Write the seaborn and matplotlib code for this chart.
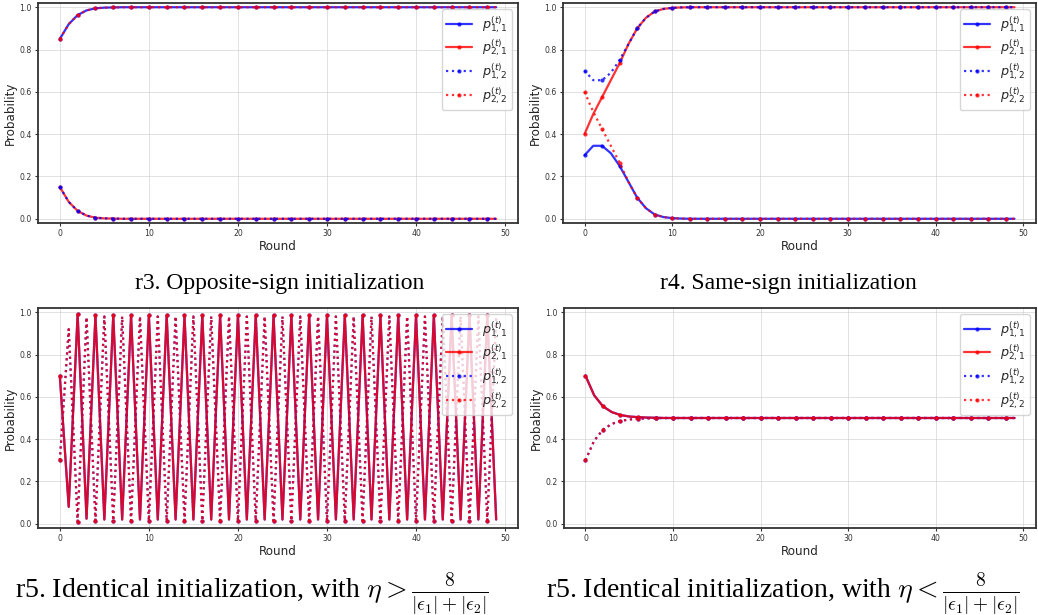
import matplotlib
matplotlib.use("Agg")
import matplotlib.pyplot as plt
import seaborn as sns

# ---------------- data ----------------
rounds = list(range(50))

# r3. Opposite-sign initialization
r3_p11 = [0.85, 0.92, 0.963, 0.985, 0.995, 0.998, 0.999, 1.0, 1.0, 1.0,
          1.0, 1.0, 1.0, 1.0, 1.0, 1.0, 1.0, 1.0, 1.0, 1.0,
          1.0, 1.0, 1.0, 1.0, 1.0, 1.0, 1.0, 1.0, 1.0, 1.0,
          1.0, 1.0, 1.0, 1.0, 1.0, 1.0, 1.0, 1.0, 1.0, 1.0,
          1.0, 1.0, 1.0, 1.0, 1.0, 1.0, 1.0, 1.0, 1.0, 1.0]
r3_p21 = [0.15, 0.08, 0.037, 0.015, 0.005, 0.002, 0.001, 0.0, 0.0, 0.0,
          0.0, 0.0, 0.0, 0.0, 0.0, 0.0, 0.0, 0.0, 0.0, 0.0,
          0.0, 0.0, 0.0, 0.0, 0.0, 0.0, 0.0, 0.0, 0.0, 0.0,
          0.0, 0.0, 0.0, 0.0, 0.0, 0.0, 0.0, 0.0, 0.0, 0.0,
          0.0, 0.0, 0.0, 0.0, 0.0, 0.0, 0.0, 0.0, 0.0, 0.0]
r3_p12 = [0.15, 0.08, 0.037, 0.015, 0.005, 0.002, 0.001, 0.0, 0.0, 0.0,
          0.0, 0.0, 0.0, 0.0, 0.0, 0.0, 0.0, 0.0, 0.0, 0.0,
          0.0, 0.0, 0.0, 0.0, 0.0, 0.0, 0.0, 0.0, 0.0, 0.0,
          0.0, 0.0, 0.0, 0.0, 0.0, 0.0, 0.0, 0.0, 0.0, 0.0,
          0.0, 0.0, 0.0, 0.0, 0.0, 0.0, 0.0, 0.0, 0.0, 0.0]
r3_p22 = [0.85, 0.92, 0.963, 0.985, 0.995, 0.998, 0.999, 1.0, 1.0, 1.0,
          1.0, 1.0, 1.0, 1.0, 1.0, 1.0, 1.0, 1.0, 1.0, 1.0,
          1.0, 1.0, 1.0, 1.0, 1.0, 1.0, 1.0, 1.0, 1.0, 1.0,
          1.0, 1.0, 1.0, 1.0, 1.0, 1.0, 1.0, 1.0, 1.0, 1.0,
          1.0, 1.0, 1.0, 1.0, 1.0, 1.0, 1.0, 1.0, 1.0, 1.0]

# r4. Same-sign initialization
r4_p11 = [0.30, 0.345, 0.345, 0.31, 0.25, 0.175, 0.10, 0.05, 0.02, 0.008,
          0.003, 0.001, 0.0, 0.0, 0.0, 0.0, 0.0, 0.0, 0.0, 0.0,
          0.0, 0.0, 0.0, 0.0, 0.0, 0.0, 0.0, 0.0, 0.0, 0.0,
          0.0, 0.0, 0.0, 0.0, 0.0, 0.0, 0.0, 0.0, 0.0, 0.0,
          0.0, 0.0, 0.0, 0.0, 0.0, 0.0, 0.0, 0.0, 0.0, 0.0]
r4_p21 = [0.40, 0.495, 0.575, 0.655, 0.735, 0.825, 0.90, 0.95, 0.98, 0.992,
          0.997, 0.999, 1.0, 1.0, 1.0, 1.0, 1.0, 1.0, 1.0, 1.0,
          1.0, 1.0, 1.0, 1.0, 1.0, 1.0, 1.0, 1.0, 1.0, 1.0,
          1.0, 1.0, 1.0, 1.0, 1.0, 1.0, 1.0, 1.0, 1.0, 1.0,
          1.0, 1.0, 1.0, 1.0, 1.0, 1.0, 1.0, 1.0, 1.0, 1.0]
r4_p12 = [0.70, 0.655, 0.655, 0.69, 0.75, 0.825, 0.90, 0.95, 0.98, 0.992,
          0.997, 0.999, 1.0, 1.0, 1.0, 1.0, 1.0, 1.0, 1.0, 1.0,
          1.0, 1.0, 1.0, 1.0, 1.0, 1.0, 1.0, 1.0, 1.0, 1.0,
          1.0, 1.0, 1.0, 1.0, 1.0, 1.0, 1.0, 1.0, 1.0, 1.0,
          1.0, 1.0, 1.0, 1.0, 1.0, 1.0, 1.0, 1.0, 1.0, 1.0]
r4_p22 = [0.60, 0.505, 0.425, 0.345, 0.265, 0.175, 0.10, 0.05, 0.02, 0.008,
          0.003, 0.001, 0.0, 0.0, 0.0, 0.0, 0.0, 0.0, 0.0, 0.0,
          0.0, 0.0, 0.0, 0.0, 0.0, 0.0, 0.0, 0.0, 0.0, 0.0,
          0.0, 0.0, 0.0, 0.0, 0.0, 0.0, 0.0, 0.0, 0.0, 0.0,
          0.0, 0.0, 0.0, 0.0, 0.0, 0.0, 0.0, 0.0, 0.0, 0.0]

# r5. Identical initialization, large eta (oscillating)
r5a_p11 = [0.70, 0.08, 0.99, 0.024, 0.985, 0.02, 0.985, 0.02, 0.985, 0.02,
           0.985, 0.02, 0.985, 0.02, 0.985, 0.02, 0.985, 0.02, 0.985, 0.02,
           0.985, 0.02, 0.985, 0.02, 0.985, 0.02, 0.985, 0.02, 0.985, 0.02,
           0.985, 0.02, 0.985, 0.02, 0.985, 0.02, 0.985, 0.02, 0.985, 0.02,
           0.985, 0.02, 0.985, 0.02, 0.985, 0.02, 0.985, 0.02, 0.985, 0.02]
r5a_p21 = [0.70, 0.08, 0.99, 0.024, 0.985, 0.02, 0.985, 0.02, 0.985, 0.02,
           0.985, 0.02, 0.985, 0.02, 0.985, 0.02, 0.985, 0.02, 0.985, 0.02,
           0.985, 0.02, 0.985, 0.02, 0.985, 0.02, 0.985, 0.02, 0.985, 0.02,
           0.985, 0.02, 0.985, 0.02, 0.985, 0.02, 0.985, 0.02, 0.985, 0.02,
           0.985, 0.02, 0.985, 0.02, 0.985, 0.02, 0.985, 0.02, 0.985, 0.02]
r5a_p12 = [0.30, 0.92, 0.01, 0.976, 0.015, 0.98, 0.015, 0.98, 0.015, 0.98,
           0.015, 0.98, 0.015, 0.98, 0.015, 0.98, 0.015, 0.98, 0.015, 0.98,
           0.015, 0.98, 0.015, 0.98, 0.015, 0.98, 0.015, 0.98, 0.015, 0.98,
           0.015, 0.98, 0.015, 0.98, 0.015, 0.98, 0.015, 0.98, 0.015, 0.98,
           0.015, 0.98, 0.015, 0.98, 0.015, 0.98, 0.015, 0.98, 0.015, 0.98]
r5a_p22 = [0.30, 0.92, 0.01, 0.976, 0.015, 0.98, 0.015, 0.98, 0.015, 0.98,
           0.015, 0.98, 0.015, 0.98, 0.015, 0.98, 0.015, 0.98, 0.015, 0.98,
           0.015, 0.98, 0.015, 0.98, 0.015, 0.98, 0.015, 0.98, 0.015, 0.98,
           0.015, 0.98, 0.015, 0.98, 0.015, 0.98, 0.015, 0.98, 0.015, 0.98,
           0.015, 0.98, 0.015, 0.98, 0.015, 0.98, 0.015, 0.98, 0.015, 0.98]

# r5. Identical initialization, small eta (converging)
r5b_p11 = [0.70, 0.607, 0.555, 0.528, 0.514, 0.507, 0.504, 0.502, 0.501, 0.50,
           0.50, 0.50, 0.50, 0.50, 0.50, 0.50, 0.50, 0.50, 0.50, 0.50,
           0.50, 0.50, 0.50, 0.50, 0.50, 0.50, 0.50, 0.50, 0.50, 0.50,
           0.50, 0.50, 0.50, 0.50, 0.50, 0.50, 0.50, 0.50, 0.50, 0.50,
           0.50, 0.50, 0.50, 0.50, 0.50, 0.50, 0.50, 0.50, 0.50, 0.50]
r5b_p21 = [0.70, 0.607, 0.555, 0.528, 0.514, 0.507, 0.504, 0.502, 0.501, 0.50,
           0.50, 0.50, 0.50, 0.50, 0.50, 0.50, 0.50, 0.50, 0.50, 0.50,
           0.50, 0.50, 0.50, 0.50, 0.50, 0.50, 0.50, 0.50, 0.50, 0.50,
           0.50, 0.50, 0.50, 0.50, 0.50, 0.50, 0.50, 0.50, 0.50, 0.50,
           0.50, 0.50, 0.50, 0.50, 0.50, 0.50, 0.50, 0.50, 0.50, 0.50]
r5b_p12 = [0.30, 0.393, 0.445, 0.472, 0.486, 0.493, 0.496, 0.498, 0.499, 0.50,
           0.50, 0.50, 0.50, 0.50, 0.50, 0.50, 0.50, 0.50, 0.50, 0.50,
           0.50, 0.50, 0.50, 0.50, 0.50, 0.50, 0.50, 0.50, 0.50, 0.50,
           0.50, 0.50, 0.50, 0.50, 0.50, 0.50, 0.50, 0.50, 0.50, 0.50,
           0.50, 0.50, 0.50, 0.50, 0.50, 0.50, 0.50, 0.50, 0.50, 0.50]
r5b_p22 = [0.30, 0.393, 0.445, 0.472, 0.486, 0.493, 0.496, 0.498, 0.499, 0.50,
           0.50, 0.50, 0.50, 0.50, 0.50, 0.50, 0.50, 0.50, 0.50, 0.50,
           0.50, 0.50, 0.50, 0.50, 0.50, 0.50, 0.50, 0.50, 0.50, 0.50,
           0.50, 0.50, 0.50, 0.50, 0.50, 0.50, 0.50, 0.50, 0.50, 0.50,
           0.50, 0.50, 0.50, 0.50, 0.50, 0.50, 0.50, 0.50, 0.50, 0.50]

series_labels = [r"$p_{1,1}^{(t)}$", r"$p_{2,1}^{(t)}$",
                 r"$p_{1,2}^{(t)}$", r"$p_{2,2}^{(t)}$"]
captions = [
    "r3. Opposite-sign initialization",
    "r4. Same-sign initialization",
    r"r5. Identical initialization, with $\eta > \frac{8}{|\epsilon_1|+|\epsilon_2|}$",
    r"r5. Identical initialization, with $\eta < \frac{8}{|\epsilon_1|+|\epsilon_2|}$",
]

# ---------------- style ----------------
sns.set_theme(style="ticks")
plt.rcParams["font.family"] = ["DejaVu Sans"]

W, H = 1038, 615
fig = plt.figure(figsize=(W / 100, H / 100), dpi=100)


def px_axes(left, top, right, bottom):
    return fig.add_axes([left / W, 1 - bottom / H, (right - left) / W, (bottom - top) / H])


def draw_panel(ax, data):
    colors = ["blue", "red", "blue", "red"]
    styles = ["-", "-", ":", ":"]
    for vals, c, ls, lab in zip(data, colors, styles, series_labels):
        sns.lineplot(x=rounds, y=vals, ax=ax, color=c, linestyle=ls,
                     linewidth=1.6, marker="o", markersize=3.0,
                     markeredgewidth=0, markevery=2, alpha=0.8, label=lab)
    ax.set_xlim(-2.45, 51.45)
    ax.set_ylim(-0.02, 1.02)
    ax.set_xticks([0, 10, 20, 30, 40, 50])
    ax.set_yticks([0.0, 0.2, 0.4, 0.6, 0.8, 1.0])
    ax.set_yticklabels(["0.0", "0.2", "0.4", "0.6", "0.8", "1.0"])
    ax.grid(True, color="#cccccc", alpha=0.6, linewidth=0.7)
    ax.tick_params(labelsize=5.6, length=2.5, width=0.8, pad=2, colors="#333333")
    ax.set_xlabel("Round", fontsize=8.6, labelpad=1.5)
    ax.set_ylabel("Probability", fontsize=8.6, labelpad=2)
    for sp in ax.spines.values():
        sp.set_visible(True)
        sp.set_color("#333333")
        sp.set_linewidth(1.3)
    ax.legend(loc="upper right", fontsize=9.2, framealpha=0.8,
              handlelength=2.0, borderaxespad=0.5, labelspacing=0.22,
              borderpad=0.35)


ax1 = px_axes(38, 3, 518, 223)
ax2 = px_axes(563, 3, 1036, 223)
ax3 = px_axes(38, 308, 518, 528)
ax4 = px_axes(564, 308, 1036, 528)

draw_panel(ax1, [r3_p11, r3_p21, r3_p12, r3_p22])
draw_panel(ax2, [r4_p11, r4_p21, r4_p12, r4_p22])
draw_panel(ax3, [r5a_p11, r5a_p21, r5a_p12, r5a_p22])
draw_panel(ax4, [r5b_p11, r5b_p21, r5b_p12, r5b_p22])

cap_pos = [(280, 283), (788, 283), (252, 593), (783, 593)]
cap_size = [17, 17, 20, 20]
for (cx, cy), fs, txt in zip(cap_pos, cap_size, captions):
    fig.text(cx / W, 1 - cy / H, txt, ha="center", va="center",
             family="Liberation Serif", fontsize=fs, math_fontfamily="cm",
             color="black")

fig.savefig("out.png", dpi=100)
